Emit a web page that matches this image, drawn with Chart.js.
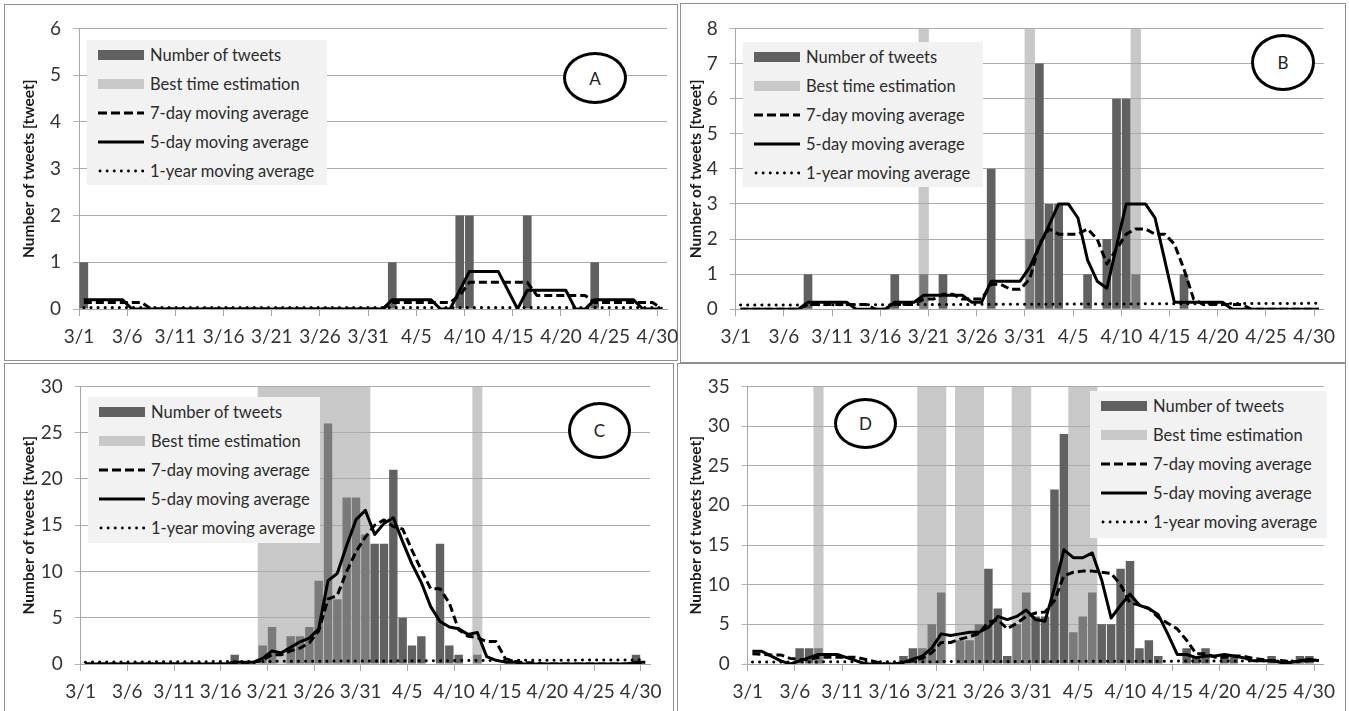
<!DOCTYPE html>
<html>
<head>
<meta charset="utf-8">
<script src="https://cdn.jsdelivr.net/npm/chart.js@4"></script>
<style>
  body { margin:0; background:#fff; width:1349px; height:711px; overflow:hidden; position:relative; font-family:Lato, 'Open Sans', sans-serif; }
  .panel { position:absolute; border:1.5px solid #8f8f8f; box-sizing:border-box; }
  .wrap { position:absolute; }
  .legend { position:absolute; background:#f2f2f2; color:#2b2b2b; font-size:16.5px; }
  .legend .row { height:29px; display:flex; align-items:center; white-space:nowrap; }
  .legend svg { display:block; margin-right:6px; flex:none; }
  .badge { position:absolute; border:3px solid #000; border-radius:50%; box-sizing:border-box;
           display:flex; align-items:center; justify-content:center; font-size:17px; color:#222; background:#fff; }
</style>
</head>
<body>

<div class="panel" style="left:4px;top:4px;width:674px;height:357px"></div>
<div class="panel" style="left:680px;top:3px;width:666px;height:360px"></div>
<div class="panel" style="left:4px;top:363px;width:670px;height:352px"></div>
<div class="panel" style="left:677px;top:363px;width:669px;height:352px"></div>

<div class="wrap" style="left:5px;top:5px;width:690px;height:355px"><canvas id="chartA"></canvas></div>
<div class="wrap" style="left:680px;top:5px;width:669px;height:357px"><canvas id="chartB"></canvas></div>
<div class="wrap" style="left:5px;top:363px;width:690px;height:348px"><canvas id="chartC"></canvas></div>
<div class="wrap" style="left:677px;top:363px;width:672px;height:348px"><canvas id="chartD"></canvas></div>

<div class="legend" id="legA" style="left:87px;top:40px;width:240px;height:145px"></div>
<div class="legend" id="legB" style="left:743px;top:42px;width:240px;height:145px"></div>
<div class="legend" id="legC" style="left:88px;top:397px;width:232px;height:146px"></div>
<div class="legend" id="legD" style="left:1090px;top:391px;width:237px;height:147px"></div>

<div class="badge" style="left:563px;top:52px;width:64px;height:52px">A</div>
<div class="badge" style="left:1251px;top:34px;width:64px;height:57px">B</div>
<div class="badge" style="left:568px;top:402px;width:63px;height:57px">C</div>
<div class="badge" style="left:834px;top:398px;width:63px;height:51px">D</div>

<script>
// ------------------------------------------------------------
//  Tweets per day, 3/1 - 4/30, four sites (A-D)
// ------------------------------------------------------------
const days = [
  '3/1','3/2','3/3','3/4','3/5','3/6','3/7','3/8','3/9','3/10',
  '3/11','3/12','3/13','3/14','3/15','3/16','3/17','3/18','3/19','3/20',
  '3/21','3/22','3/23','3/24','3/25','3/26','3/27','3/28','3/29','3/30',
  '3/31','4/1','4/2','4/3','4/4','4/5','4/6','4/7','4/8','4/9',
  '4/10','4/11','4/12','4/13','4/14','4/15','4/16','4/17','4/18','4/19',
  '4/20','4/21','4/22','4/23','4/24','4/25','4/26','4/27','4/28','4/29',
  '4/30'
];

// --- A ---
const tweetsA = [
  1,0,0,0,0,0,0,0,0,0,  0,0,0,0,0,0,0,0,0,0,  0,0,0,0,0,0,0,0,0,0,
  0,0,1,0,0,0,0,0,0,2,  2,0,0,0,0,0,2,0,0,0,  0,0,0,1,0,0,0,0,0,0,  0];
const ma7A = [
  .14,.14,.14,.14,.14,.14,.14,0,0,0,  0,0,0,0,0,0,0,0,0,0,  0,0,0,0,0,0,0,0,0,0,
  0,0,.14,.14,.14,.14,.14,.14,.14,.29,  .57,.57,.57,.57,.57,.57,.57,.29,.29,.29,
  .29,.29,.29,.14,.14,.14,.14,.14,.14,.14,  0];
const ma5A = [
  .2,.2,.2,.2,.2,0,0,0,0,0,  0,0,0,0,0,0,0,0,0,0,  0,0,0,0,0,0,0,0,0,0,
  0,0,.2,.2,.2,.2,.2,0,0,.4,  .8,.8,.8,.8,.4,0,.4,.4,.4,.4,  .4,0,0,.2,.2,.2,.2,.2,0,0,  0];
const yearA = [0.03, 0.03];
const bestA = [];

// --- B ---
const tweetsB = [
  0,0,0,0,0,0,0,1,0,0,  0,0,0,0,0,0,1,0,0,1,  0,1,0,0,0,0,4,0,0,0,
  2,7,3,3,0,0,1,0,2,6,  6,1,0,0,0,0,1,0,0,0,  0,0,0,0,0,0,0,0,0,0,  0];
const ma7B = [
  0,0,0,0,0,0,0,.14,.14,.14,  .14,.14,.14,.14,0,0,.14,.14,.14,.29,
  .29,.43,.43,.29,.29,.29,.71,.71,.57,.57,  .86,1.86,2.29,2.14,2.14,2.14,2.29,2.0,1.29,1.71,
  2.14,2.29,2.29,2.14,2.14,1.86,1.14,.29,.14,.14,  .14,.14,.14,0,0,0,0,0,0,0,  0];
const ma5B = [
  0,0,0,0,0,0,0,.2,.2,.2,  .2,.2,0,0,0,0,.2,.2,.2,.4,  .4,.4,.4,.4,.2,.2,.8,.8,.8,.8,
  1.2,1.8,2.4,3.0,3.0,2.6,1.4,.8,.6,1.8,  3.0,3.0,3.0,2.6,1.4,.2,.2,.2,.2,.2,
  .2,0,0,0,0,0,0,0,0,0,  0];
const yearB = [0.12, 0.17];
const bestB = ['3/20','3/31','4/11'];

// --- C ---
const tweetsC = [
  0,0,0,0,0,0,0,0,0,0,  0,0,0,0,0,0,1,0,0,2,  4,0,3,3,4,9,26,7,18,18,
  14,13,13,21,5,2,3,0,13,2,  1,0,1,0,0,0,0,0,0,0,  0,0,0,0,0,0,0,0,0,1,  0];
const ma7C = [
  0,0,0,0,0,0,0,0,0,0,  0,0,0,0,0,0,.14,.14,.14,.43,
  1.0,1.0,1.43,1.71,2.29,3.57,7.0,7.43,10.0,12.14,
  13.71,15.0,15.57,14.86,14.57,12.29,10.14,8.14,8.14,6.57,
  3.71,3.0,2.86,2.43,2.43,.57,.29,.14,.14,0,  0,0,0,0,0,0,0,0,0,.14,  .14];
const ma5C = [
  0,0,0,0,0,0,0,0,0,0,  0,0,0,0,0,0,.2,.2,.2,.6,
  1.4,1.2,1.8,2.4,2.8,3.8,9.0,9.8,12.8,15.6,
  16.6,14.0,15.2,15.8,13.2,10.8,8.8,6.2,4.6,4.0,
  3.8,3.2,3.4,.8,.4,.2,.2,0,0,0,  0,0,0,0,0,0,0,0,0,.2,  .2];
const yearC = [0.2, 0.45];
const bestC = ['3/20','3/21','3/22','3/23','3/24','3/25','3/26','3/27','3/28','3/29','3/30','3/31','4/12'];

// --- D ---
const tweetsD = [
  0,0,0,0,0,2,2,2,0,0,  0,0,0,0,0,0,1,2,2,5,  9,0,3,3,5,12,7,1,5,9,
  6,6,22,29,4,6,9,5,5,12,  13,2,3,1,0,0,2,1,2,0,  1,1,0,0,0,1,0,0,1,1,  0];
const ma7D = [
  1.3,1.2,1.14,1.14,.71,.57,.57,.86,.86,.86,  .86,.86,.57,.29,0,0,.14,.43,.71,1.43,
  2.71,2.71,3.14,3.43,3.86,5.29,5.57,4.43,5.14,6.0,
  6.43,6.57,8.0,11.14,11.57,11.71,11.71,11.57,11.43,10.0,
  7.71,7.43,7.0,5.86,5.14,4.43,3.0,1.29,1.29,.86,
  .86,1.0,1.0,.71,.57,.43,.43,.29,.29,.43,  .43];
const ma5D = [
  1.6,1.6,1.0,.4,0,.4,.8,1.2,1.2,1.2,  .8,.4,0,0,0,0,.2,.6,1.0,2.0,
  3.8,3.6,3.8,4.0,4.0,4.6,6.0,5.6,6.0,6.8,
  5.6,5.4,9.6,14.4,13.4,13.4,14.0,10.6,5.8,7.4,
  8.8,7.4,7.0,6.2,3.8,1.2,1.2,.8,1.0,1.0,
  1.2,1.0,.8,.4,.4,.4,.2,.2,.4,.6,  .4];
const yearD = [0.25, 0.4];
const bestD = ['3/8','3/19','3/20','3/21','3/23','3/24','3/25','3/29','3/30','4/4','4/5','4/6'];

const legendItems = ['Number of tweets', 'Best time estimation', '7-day moving average', '5-day moving average', '1-year moving average'];

Chart.defaults.font.family = "Lato, 'Open Sans', sans-serif";

const DARK  = '#616161';
const MID   = '#7a7a7a';   // tweet bar seen through a best-time band
const LIGHT = '#c8c8c8';
const GRID  = '#b3b3b3';
const AXIS  = '#a6a6a6';

// redraw the value gridlines on top of the light best-time bands
const bandGrid = {
  id: 'bandGrid',
  afterDatasetDraw(chart, args) {
    if (args.index !== 1) return;
    const { ctx, chartArea: a, scales: { y } } = chart;
    ctx.save();
    ctx.strokeStyle = '#ababab';
    ctx.lineWidth = 1;
    y.ticks.forEach(t => {
      if (t.value === 0) return;
      const py = Math.round(y.getPixelForValue(t.value) - 0.5) + 0.5;
      ctx.beginPath(); ctx.moveTo(a.left, py); ctx.lineTo(a.right, py); ctx.stroke();
    });
    ctx.restore();
  }
};

function makeChart(id, c) {
  const best = days.map(d => c.best.includes(d) ? c.yMax : null);
  new Chart(document.getElementById(id), {
    type: 'bar',
    data: {
      labels: days,
      datasets: [
        { label: legendItems[0], data: c.tweets,
          backgroundColor: ctx => c.best.includes(days[ctx.dataIndex]) ? MID : DARK,
          barPercentage: 0.9, categoryPercentage: 1, grouped: false, order: 2 },
        { label: legendItems[1], data: best, backgroundColor: LIGHT,
          barPercentage: 1, categoryPercentage: 1, grouped: false, order: 3 },
        { type: 'line', label: legendItems[2], data: c.ma7, borderColor: '#000', borderWidth: 3,
          borderDash: [8, 4], pointRadius: 0, borderJoinStyle: 'round', order: 1 },
        { type: 'line', label: legendItems[3], data: c.ma5, borderColor: '#000', borderWidth: 3,
          pointRadius: 0, borderJoinStyle: 'round', order: 0 },
        { type: 'line', label: legendItems[4],
          data: [{ x: days[0], y: c.year[0] }, { x: days[days.length - 1], y: c.year[1] }],
          borderColor: '#000', borderWidth: 3, borderDash: [0.1, 7], borderCapStyle: 'round',
          pointRadius: 0, order: 1 }
      ]
    },
    plugins: [bandGrid],
    options: {
      responsive: true, maintainAspectRatio: false, animation: false,
      layout: { padding: { top: c.padTop, right: c.padRight, left: 0, bottom: 0 } },
      plugins: { legend: { display: false }, tooltip: { enabled: false } },
      scales: {
        x: {
          offset: true,
          grid: { offset: true, drawOnChartArea: false, tickLength: 7,
                  color: ctx => ctx.index % 5 === 0 ? AXIS : 'rgba(0,0,0,0)' },
          border: { color: AXIS },
          ticks: {
            autoSkip: false, maxRotation: 0, minRotation: 0, padding: 9,
            labelOffset: c.labelOffset, color: '#333', font: { size: 19 },
            callback: function (v, i) { return i % 5 === 0 ? this.getLabelForValue(v) : ''; }
          },
          afterFit: s => { s.height = c.xH; }
        },
        y: {
          min: 0, max: c.yMax,
          ticks: { stepSize: c.step, color: '#333', font: { size: 19 }, padding: 12 },
          grid: { color: GRID, tickLength: 6 },
          border: { color: AXIS },
          title: { display: true, text: 'Number of tweets [tweet]', color: '#1a1a1a',
                   font: { size: 15.5, weight: 'bold' }, padding: { top: c.titlePad, bottom: 0 } },
          afterFit: s => { s.width = c.yW; }
        }
      }
    }
  });
}

function makeLegend(id) {
  const sw = [
    '<svg width="46" height="10"><rect width="46" height="10" fill="' + DARK + '"/></svg>',
    '<svg width="46" height="10"><rect width="46" height="10" fill="' + LIGHT + '"/></svg>',
    '<svg width="46" height="6"><line x1="0" y1="3" x2="46" y2="3" stroke="#000" stroke-width="3" stroke-dasharray="9 4"/></svg>',
    '<svg width="46" height="6"><line x1="0" y1="3" x2="46" y2="3" stroke="#000" stroke-width="3"/></svg>',
    '<svg width="46" height="6"><line x1="2" y1="3" x2="46" y2="3" stroke="#000" stroke-width="2.8" stroke-linecap="round" stroke-dasharray="0.1 7"/></svg>'
  ];
  document.getElementById(id).innerHTML = legendItems.map((t, i) =>
    `<div class="row" style="padding-left:11px">${sw[i]}<span>${t}</span></div>`).join('');
}

makeChart('chartA', { tweets: tweetsA, ma7: ma7A, ma5: ma5A, year: yearA, best: bestA, yMax: 6, step: 1,
  yW: 74, xH: 51, padTop: 17, padRight: 28, titlePad: 15, labelOffset: -4.8 });
makeChart('chartB', { tweets: tweetsB, ma7: ma7B, ma5: ma5B, year: yearB, best: bestB, yMax: 8, step: 1,
  yW: 55.7, xH: 52.7, padTop: 23.3, padRight: 25, titlePad: 7, labelOffset: -4.8 });
makeChart('chartC', { tweets: tweetsC, ma7: ma7C, ma5: ma5C, year: yearC, best: bestC, yMax: 30, step: 5,
  yW: 75.7, xH: 47, padTop: 20.3, padRight: 45, titlePad: 15, labelOffset: -4.7 });
makeChart('chartD', { tweets: tweetsD, ma7: ma7D, ma5: ma5D, year: yearD, best: bestD, yMax: 35, step: 5,
  yW: 70.7, xH: 47, padTop: 20.3, padRight: 25.5, titlePad: 10, labelOffset: -4.7 });

['legA', 'legB', 'legC', 'legD'].forEach(makeLegend);
</script>
</body>
</html>
